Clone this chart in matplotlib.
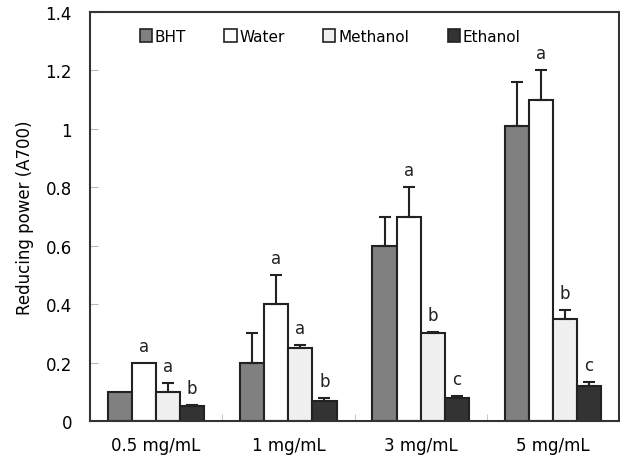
import matplotlib
matplotlib.use("Agg")
import matplotlib.pyplot as plt
import numpy as np
from matplotlib.patches import Patch

categories = ["0.5 mg/mL", "1 mg/mL", "3 mg/mL", "5 mg/mL"]
series = ["BHT", "Water", "Methanol", "Ethanol"]
values = {
    "BHT":      [0.10, 0.20, 0.60, 1.01],
    "Water":    [0.20, 0.40, 0.70, 1.10],
    "Methanol": [0.10, 0.25, 0.30, 0.35],
    "Ethanol":  [0.05, 0.07, 0.08, 0.12],
}
errors = {
    "BHT":      [0.00, 0.10, 0.10, 0.15],
    "Water":    [0.00, 0.10, 0.10, 0.10],
    "Methanol": [0.03, 0.01, 0.005, 0.03],
    "Ethanol":  [0.005, 0.01, 0.005, 0.015],
}
letters = {
    "Water":    ["a", "a", "a", "a"],
    "Methanol": ["a", "a", "b", "b"],
    "Ethanol":  ["b", "b", "c", "c"],
}
colors = {"BHT": "#808080", "Water": "#ffffff", "Methanol": "#f0f0f0", "Ethanol": "#333333"}
yticks = [0, 0.2, 0.4, 0.6, 0.8, 1, 1.2, 1.4]
ytick_labels = ["0", "0.2", "0.4", "0.6", "0.8", "1", "1.2", "1.4"]

plt.rcParams['font.family'] = ['DejaVu Sans']
fig = plt.figure(figsize=(6.2, 4.64), dpi=100)
ax = fig.add_axes([90/620, 1 - 422/464, 529/620, 409/464])

x = np.arange(len(categories)) + 0.5
w = 0.182
edge = "#222222"
for i, s in enumerate(series):
    xs = x + (i - 1.5) * w
    ax.bar(xs, values[s], width=w, color=colors[s], edgecolor=edge, linewidth=1.5, zorder=2)
    for j in range(len(categories)):
        e = errors[s][j]
        if e > 0:
            ax.errorbar(xs[j], values[s][j], yerr=[[0], [e]], fmt='none', ecolor=edge,
                        elinewidth=1.5, capsize=4, capthick=1.5, zorder=3)
    if s in letters:
        for j in range(len(categories)):
            top = values[s][j] + errors[s][j]
            ax.text(xs[j], top + 0.058, letters[s][j], ha='center', va='center',
                    fontsize=12, color="#222222")

ax.set_xlim(0, 4)
ax.set_ylim(0, 1.4)
ax.set_yticks(yticks)
ax.set_yticklabels(ytick_labels)
ax.set_xticks(x)
ax.set_xticklabels(categories)
ax.set_xticks([1, 2, 3], minor=True)
ax.tick_params(axis='x', which='major', length=0, pad=11, labelsize=12)
ax.tick_params(axis='x', which='minor', direction='in', length=5, color='#bbbbbb')
ax.tick_params(axis='y', direction='in', length=6, color='#bbbbbb', pad=13, labelsize=12)
for sp in ax.spines.values():
    sp.set_linewidth(1.5)
    sp.set_color("#333333")

ax.set_ylabel("Reducing power (A700)", fontsize=12, labelpad=8)

handles = [Patch(facecolor=colors[s], edgecolor=edge, linewidth=1.2, label=s) for s in series]
ax.legend(handles=handles, ncol=4, frameon=False, loc='center',
          bbox_to_anchor=(0.454, 0.94), handlelength=0.8, handleheight=0.9,
          handletextpad=0.2, columnspacing=2.5, fontsize=11)

fig.savefig("out.png", dpi=100)
